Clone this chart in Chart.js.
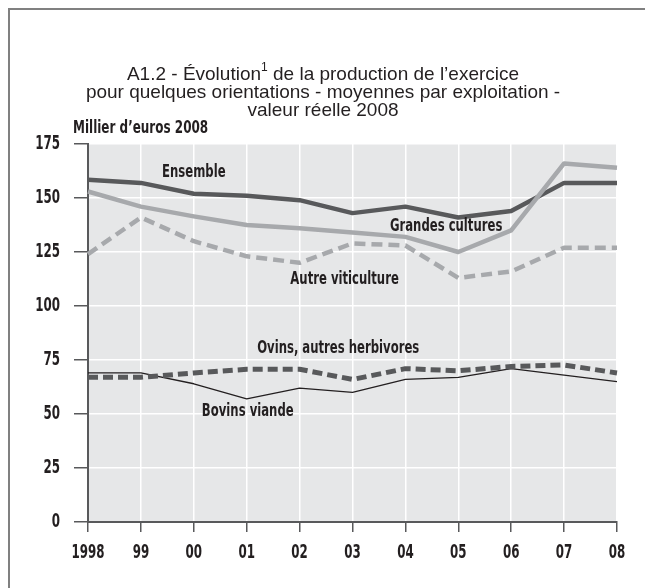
<!DOCTYPE html>
<html>
<head>
<meta charset="utf-8">
<script src="https://cdn.jsdelivr.net/npm/chart.js@4/dist/chart.umd.min.js"></script>
<style>
  body { margin: 0; background: #fff; overflow: hidden; }
  #frame { position: absolute; left: 8px; top: 8px; width: 700px; height: 700px; border: 2px solid #808080; }
  #wrap { position: absolute; left: 0; top: 0; width: 645px; height: 588px; }
</style>
</head>
<body>
<div id="frame"></div>
<div id="wrap"><canvas id="chart" width="645" height="588"></canvas></div>
<script>
// data (thousand euros 2008)
const years = ['1998', '99', '00', '01', '02', '03', '04', '05', '06', '07', '08'];
const ensemble = [158.5, 157, 152, 151, 149, 143, 146, 141, 144, 157, 157];
const grandesCultures = [153, 146, 141.5, 137.5, 136, 134, 132, 125, 135, 166, 164];
const autreViticulture = [124, 141, 130, 123, 120, 129, 128, 113, 116, 127, 127];
const ovins = [67, 67, 69, 70.7, 70.7, 66, 71, 70, 72, 72.7, 69];
const bovinsViande = [69, 69, 64, 57, 62, 60, 66, 67, 71, 68, 65];
const yTicks = [0, 25, 50, 75, 100, 125, 150, 175];

const DARK = '#58595b';
const LIGHT = '#a7a9ac';
const TEXT = '#231f20';
const COND = '"DejaVu Sans Condensed", "DejaVu Sans", sans-serif';
const PLAIN = '"Liberation Sans", Arial, sans-serif';

// series labels placed in data units (category index, value)
const seriesLabels = [
    { text: 'Ensemble', x: 2.0, y: 162 },
    { text: 'Grandes cultures', x: 6.77, y: 137 },
    { text: 'Autre viticulture', x: 4.85, y: 112.5 },
    { text: 'Ovins, autres herbivores', x: 4.73, y: 80.5 },
    { text: 'Bovins viande', x: 3.02, y: 51.4 }
];

// the original uses a very narrow typeface, so condensed text is squeezed horizontally
function narrowText(ctx, text, x, y, align, sx) {
    ctx.save();
    ctx.translate(x, y);
    ctx.scale(sx, 1);
    ctx.textAlign = align;
    ctx.fillText(text, 0, 0);
    ctx.restore();
}

const plotBackground = {
    id: 'plotBackground',
    beforeDraw(chart) {
        const { ctx, chartArea: a } = chart;
        ctx.save();
        ctx.fillStyle = '#e6e7e8';
        ctx.fillRect(a.left, a.top, a.right - a.left, a.bottom - a.top);
        ctx.restore();
    }
};

const texts = {
    id: 'texts',
    afterDraw(chart) {
        const ctx = chart.ctx;
        const xs = chart.scales.x, ys = chart.scales.y;
        ctx.save();
        ctx.fillStyle = TEXT;
        ctx.textBaseline = 'middle';

        // title, first line has a superscript note
        const cx = 323;
        const p1 = 'A1.2 - Évolution', p3 = ' de la production de l’exercice';
        ctx.font = '19px ' + PLAIN;
        const w1 = ctx.measureText(p1).width, w3 = ctx.measureText(p3).width;
        ctx.font = '12px ' + PLAIN;
        const w2 = ctx.measureText('1').width;
        const x0 = cx - (w1 + w2 + w3) / 2;
        ctx.textAlign = 'left';
        ctx.font = '19px ' + PLAIN;
        ctx.fillText(p1, x0, 75);
        ctx.font = '12px ' + PLAIN;
        ctx.fillText('1', x0 + w1, 68);
        ctx.font = '19px ' + PLAIN;
        ctx.fillText(p3, x0 + w1 + w2, 75);
        ctx.textAlign = 'center';
        ctx.fillText('pour quelques orientations - moyennes par exploitation -', cx, 93);
        ctx.fillText('valeur réelle 2008', cx, 111);

        // unit caption
        ctx.font = 'bold 18px ' + COND;
        narrowText(ctx, 'Millier d’euros 2008', 73, 128, 'left', 0.74);

        // series labels
        seriesLabels.forEach((l) => {
            narrowText(ctx, l.text, xs.getPixelForValue(l.x), ys.getPixelForValue(l.y), 'center', 0.72);
        });

        // tick labels from the library's scales
        ctx.font = 'bold 20px ' + COND;
        ys.ticks.forEach((t) => {
            narrowText(ctx, String(t.value), 60, ys.getPixelForValue(t.value), 'right', 0.66);
        });
        years.forEach((y, i) => {
            narrowText(ctx, y, xs.getPixelForValue(i), 553, 'center', 0.66);
        });
        ctx.restore();
    }
};

const ctx = document.getElementById('chart').getContext('2d');
const chart = new Chart(ctx, {
    type: 'line',
    data: {
        labels: years,
        datasets: [
            { label: 'Ovins, autres herbivores', data: ovins, borderColor: DARK, borderWidth: 5, borderDash: [10, 5] },
            { label: 'Bovins viande', data: bovinsViande, borderColor: TEXT, borderWidth: 1.3 },
            { label: 'Grandes cultures', data: grandesCultures, borderColor: LIGHT, borderWidth: 4.5 },
            { label: 'Ensemble', data: ensemble, borderColor: DARK, borderWidth: 4.5 },
            { label: 'Autre viticulture', data: autreViticulture, borderColor: LIGHT, borderWidth: 4.5, borderDash: [11, 6] }
        ]
    },
    options: {
        responsive: false,
        animation: false,
        events: [],
        layout: { padding: { top: 144, right: 28, left: 0, bottom: 0 } },
        elements: {
            point: { radius: 0 },
            line: { tension: 0, fill: false, borderCapStyle: 'butt', borderJoinStyle: 'round' }
        },
        plugins: { legend: { display: false }, tooltip: { enabled: false }, title: { display: false } },
        scales: {
            x: {
                offset: false,
                grid: { color: '#ffffff', lineWidth: 1.5, tickColor: DARK, tickLength: 10 },
                border: { color: DARK, width: 2 },
                ticks: { display: false, autoSkip: false, maxRotation: 0 },
                afterFit(scale) { scale.height = 66; }
            },
            y: {
                min: 0,
                max: 175,
                afterBuildTicks(scale) { scale.ticks = yTicks.map((v) => ({ value: v })); },
                grid: { color: '#ffffff', lineWidth: 1.5, tickColor: DARK, tickLength: 14 },
                border: { color: DARK, width: 2 },
                ticks: { display: false },
                afterFit(scale) { scale.width = 88; }
            }
        }
    },
    plugins: [plotBackground, texts]
});
</script>
</body>
</html>
